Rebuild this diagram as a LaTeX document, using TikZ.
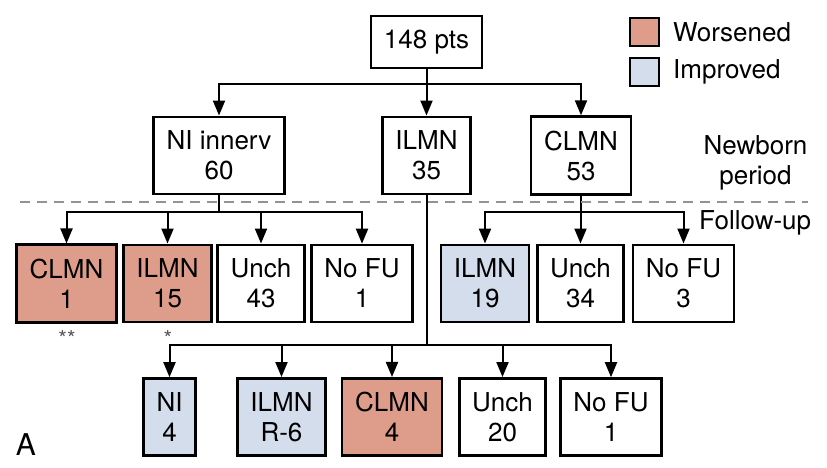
\documentclass[tikz,border=0pt]{standalone}
\usepackage{fontspec}
\setmainfont{TeX Gyre Heros}
\usetikzlibrary{arrows.meta}
\definecolor{worse}{HTML}{DE9C8A}
\definecolor{better}{HTML}{D4DDEC}
\begin{document}
\begin{tikzpicture}[x=1pt,y=-1pt,
    box/.style={draw,line width=2.6pt,inner xsep=13pt,inner ysep=14pt,align=center,
      font=\fontsize{26}{30}\selectfont},
    link/.style={line width=2pt,-{Triangle[length=15pt,width=12pt]}},
    bus/.style={line width=2pt}]
      \useasboundingbox (0,0) rectangle (827,467);
      \def \Boxes{
        ni/219/155.5/NI innerv\\60/white,
        ilmn/426.5/155.5/ILMN\\35/white,
        clmn/581/155.5/CLMN\\53/white,
        a1/66.5/283.5/CLMN\\1/worse,
        a2/167.5/283.5/ILMN\\15/worse,
        a3/261/283.5/Unch\\43/white,
        a4/362/283.5/No FU\\1/white,
        c1/485/283.5/ILMN\\19/better,
        c2/580.5/283.5/Unch\\34/white,
        c3/683.5/283.5/No FU\\3/white,
        b1/169.5/417/NI\\4/better,
        b2/281.5/417/ILMN\\R-6/better,
        b3/392/417/CLMN\\4/worse,
        b4/502.5/417/Unch\\20/white,
        b5/611/417/No FU\\1/white}
      \node[box] (top) at (426.5, 42) {148 pts};
      \foreach \id / \x / \y / \txt / \col in \Boxes{
        \node[box,fill=\col,minimum height=77pt] (\id) at (\x, \y) {\txt};
      }
      % first split
      \coordinate (s0) at (426.5, 84);
      \draw[link] (top.south) -- (ilmn.north);
      \foreach \x in {ni, clmn}{
        \draw[link] (s0) -| (\x.north);
      }
      % follow-up of each group
      \coordinate (sa) at (219, 212);
      \coordinate (sc) at (581, 212);
      \coordinate (sb) at (426.5, 345);
      \draw[bus] (ni.south) -- (sa);
      \draw[bus] (clmn.south) -- (sc);
      \draw[bus] (ilmn.south) -- (sb);
      \foreach \x in {a1, a2, a3, a4}{
        \draw[link] (sa) -| (\x.north);
      }
      \foreach \x in {c1, c2, c3}{
        \draw[link] (sc) -| (\x.north);
      }
      \foreach \x in {b1, b2, b3, b4, b5}{
        \draw[link] (sb) -| (\x.north);
      }
      \draw[gray!85,line width=2.6pt,dash pattern=on 10pt off 7pt] (20, 202) -- (808, 202);
      % legend
      \node[draw,line width=2.6pt,fill=worse,minimum width=29pt,minimum height=28pt,inner sep=0pt] (kw) at (644.5, 32) {};
      \node[draw,line width=2.6pt,fill=better,minimum width=29pt,minimum height=28pt,inner sep=0pt] (kb) at (644.5, 72) {};
      \node[anchor=west,font=\fontsize{26}{30}\selectfont,inner sep=0pt] (lw) at (673, 32) {Worsened};
      \node[anchor=west,font=\fontsize{26}{30}\selectfont,inner sep=0pt] (lb) at (673, 72) {Improved};
      \node[align=center,font=\fontsize{26}{30}\selectfont,inner sep=0pt] (newb) at (755.5, 163) {Newborn\\period};
      \node[anchor=west,font=\fontsize{26}{30}\selectfont,inner sep=0pt] (fup) at (699, 223) {Follow-up};
      \node[font=\fontsize{22}{22}\selectfont,gray!70!black] (st2) at (67, 338) {**};
      \node[font=\fontsize{22}{22}\selectfont,gray!70!black] (st1) at (168, 338) {*};
      \node[font=\fontsize{30}{30}\selectfont,inner sep=0pt] (pa) at (26, 445) {A};
    \end{tikzpicture}
\end{document}
